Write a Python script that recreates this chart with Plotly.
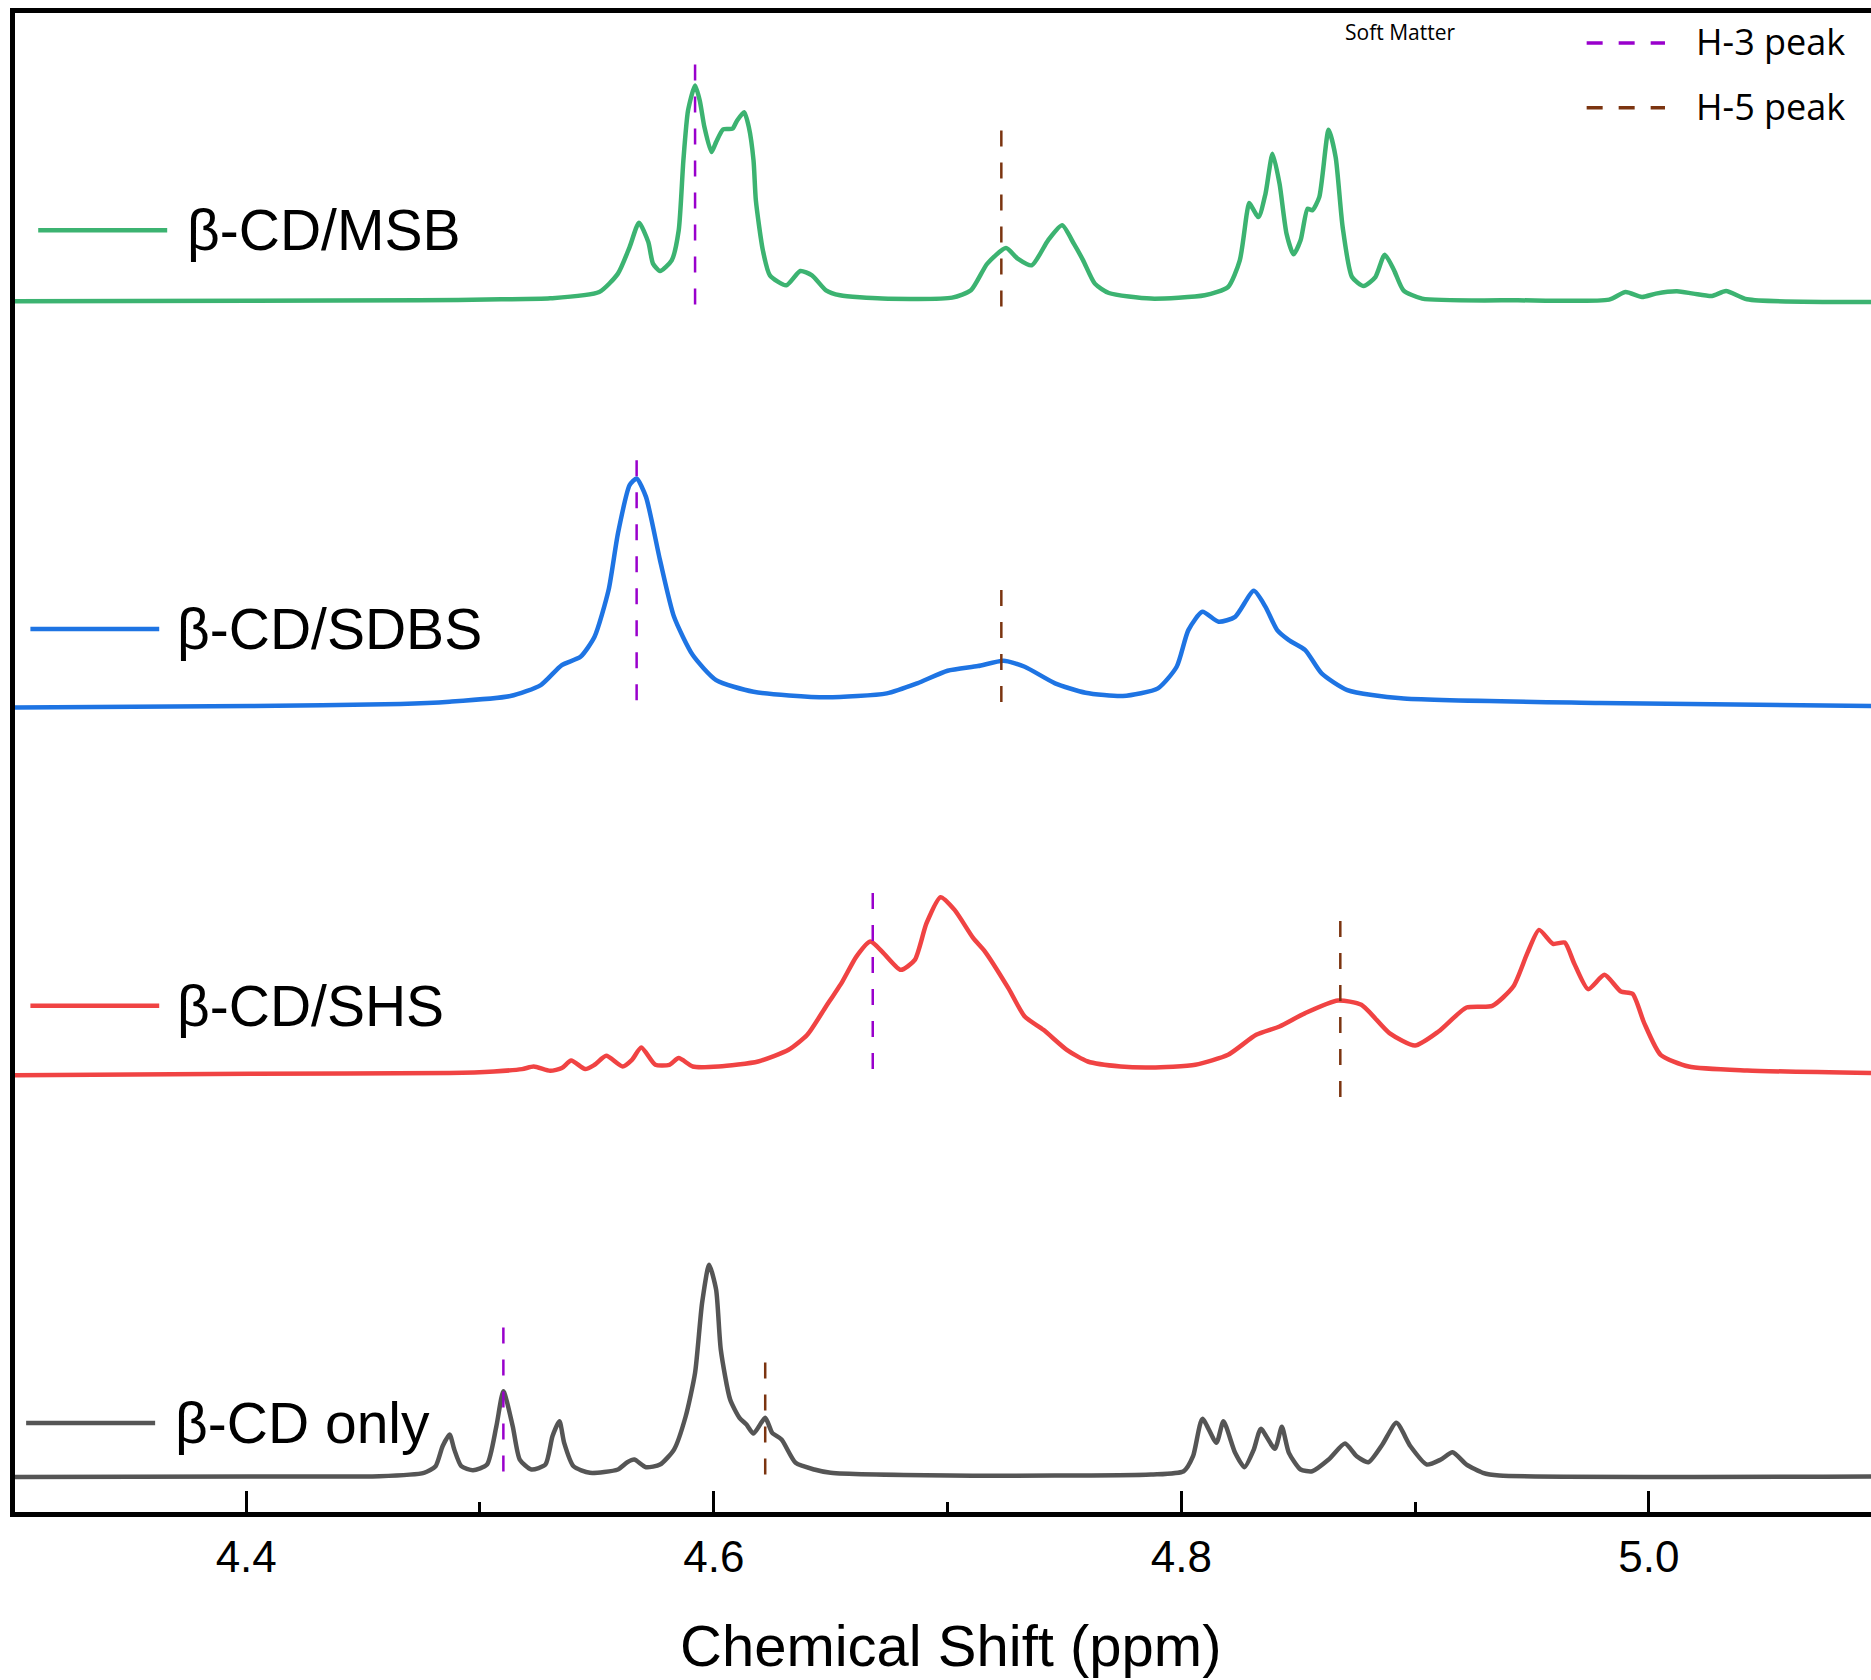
import plotly.graph_objects as go

# ---------------- data ----------------
# chemical shift (ppm) and intensity (a.u., relative to each spectrum's baseline)
ppm_msb = [4.300, 4.402, 4.474, 4.509, 4.530, 4.551, 4.559, 4.564, 4.568, 4.572,
           4.574, 4.577, 4.582, 4.585, 4.587, 4.589, 4.592, 4.594, 4.596, 4.599,
           4.601, 4.604, 4.608, 4.610, 4.613, 4.615, 4.617, 4.618, 4.621, 4.624,
           4.631, 4.637, 4.642, 4.648, 4.654, 4.672, 4.702, 4.710, 4.717, 4.725,
           4.730, 4.736, 4.743, 4.749, 4.754, 4.758, 4.763, 4.769, 4.787, 4.810,
           4.820, 4.825, 4.828, 4.829, 4.833, 4.836, 4.839, 4.842, 4.845, 4.848,
           4.851, 4.854, 4.856, 4.859, 4.863, 4.866, 4.869, 4.873, 4.878, 4.883,
           4.887, 4.891, 4.895, 4.903, 4.944, 4.983, 4.990, 4.997, 5.003, 5.012,
           5.019, 5.027, 5.033, 5.042, 5.095]
int_msb = [-1, -0.5, 0, 1, 2, 8.3, 26.7, 53.3, 77.7, 58.3,
           36.7, 29.3, 40, 70, 140, 190, 215, 200, 173.3, 148.3,
           158.3, 171, 171.7, 180, 188.3, 173.3, 140, 100, 50, 25,
           15, 29.3, 25, 10, 5, 1.7, 2.7, 10, 36.7, 52.3,
           41.7, 35, 60, 75, 56.7, 40, 16.7, 7.3, 1.7, 5,
           13.3, 40, 86.7, 97.3, 83.3, 106.7, 146.7, 116.7, 66.7, 46,
           60, 91.7, 90, 103.3, 170.7, 143.3, 73.3, 23.3, 14.3, 23.3,
           45.7, 30, 10, 1.7, 0, 0.7, 8.3, 3.3, 6.7, 9,
           6.7, 4.3, 9.3, 1, -1.7]

ppm_sdbs = [4.300, 4.402, 4.466, 4.487, 4.513, 4.526, 4.535, 4.543, 4.549, 4.555,
            4.559, 4.564, 4.567, 4.571, 4.577, 4.583, 4.591, 4.601, 4.617, 4.648,
            4.674, 4.687, 4.700, 4.713, 4.724, 4.733, 4.746, 4.759, 4.775, 4.790,
            4.798, 4.803, 4.809, 4.816, 4.823, 4.831, 4.836, 4.841, 4.846, 4.853,
            4.860, 4.871, 4.894, 4.979, 5.095]
int_sdbs = [-0.5, 1, 3, 5.3, 11, 22, 42, 50.3, 70.3, 117,
            173.7, 222, 228.7, 210.3, 147, 90.3, 52, 27, 15.3, 9.7,
            13.7, 23.7, 36.3, 41, 46.3, 40.3, 23.7, 14.3, 11, 18.7,
            40.3, 77, 95.3, 85.3, 90.3, 116.3, 100.3, 77, 67, 57,
            33.7, 17, 8.7, 4, 1]

ppm_shs = [4.300, 4.402, 4.487, 4.506, 4.518, 4.523, 4.530, 4.535, 4.539, 4.545,
           4.549, 4.554, 4.561, 4.565, 4.569, 4.575, 4.581, 4.585, 4.591, 4.602,
           4.619, 4.632, 4.640, 4.648, 4.655, 4.661, 4.667, 4.672, 4.680, 4.686,
           4.691, 4.697, 4.703, 4.711, 4.716, 4.726, 4.733, 4.741, 4.751, 4.760,
           4.774, 4.787, 4.806, 4.820, 4.832, 4.842, 4.853, 4.867, 4.877, 4.889,
           4.900, 4.910, 4.922, 4.933, 4.942, 4.948, 4.953, 4.959, 4.964, 4.968,
           4.974, 4.981, 4.988, 4.993, 4.998, 5.005, 5.017, 5.042, 5.095]
int_shs = [-0.5, 1, 1.7, 3.3, 5.7, 8.3, 4, 6.7, 14.3, 5.7,
           10, 19, 8.3, 15, 27.3, 10, 10, 16.7, 8.3, 8.3,
           13.3, 25, 40, 68.3, 93.3, 118.3, 133.3, 123.3, 105, 115,
           151.7, 177.7, 165, 136.7, 123.3, 86.7, 58.3, 45, 25, 13.3,
           8.3, 7.3, 10, 20, 40, 48.3, 61.7, 74.3, 70, 41.7,
           29.3, 43.3, 67.3, 69, 88.3, 121.7, 145, 131, 132.3, 111.7,
           85.7, 100, 83.3, 81, 51.7, 20, 8.3, 4.3, 1.7]

ppm_cd = [4.300, 4.402, 4.457, 4.476, 4.481, 4.484, 4.487, 4.489, 4.492, 4.497,
          4.503, 4.507, 4.510, 4.514, 4.517, 4.522, 4.528, 4.531, 4.534, 4.536,
          4.540, 4.547, 4.559, 4.563, 4.566, 4.571, 4.577, 4.583, 4.588, 4.592,
          4.595, 4.598, 4.601, 4.603, 4.607, 4.611, 4.614, 4.617, 4.622, 4.625,
          4.629, 4.635, 4.643, 4.650, 4.701, 4.787, 4.801, 4.805, 4.809, 4.815,
          4.818, 4.823, 4.827, 4.831, 4.834, 4.840, 4.843, 4.846, 4.851, 4.856,
          4.863, 4.870, 4.875, 4.880, 4.886, 4.892, 4.898, 4.905, 4.911, 4.916,
          4.922, 4.929, 4.936, 5.095]
int_cd = [-0.5, 0, 0.3, 3.7, 10.3, 30.3, 42, 27, 10.3, 6.3,
          12, 50.3, 85.3, 50.3, 17, 7, 12, 40.3, 55.3, 33.7,
          10.3, 3.7, 7, 14.3, 17, 9.3, 12, 27, 60.3, 103.7,
          173.7, 212, 187, 127, 77, 58.7, 52, 43, 58.7, 43.7,
          37, 13.7, 7, 3.7, 1, 2, 5.3, 20.3, 57.7, 33.7,
          55.3, 23.7, 9.3, 27, 47.7, 27.7, 49.7, 23.7, 7, 5.3,
          17, 33, 20.3, 14.3, 32, 53.7, 30.3, 12, 17, 24.3,
          12, 3.7, 1, 0]

series_names = ["β-CD/MSB", "β-CD/SDBS", "β-CD/SHS", "β-CD only"]
series_ppm = [ppm_msb, ppm_sdbs, ppm_shs, ppm_cd]
series_int = [int_msb, int_sdbs, int_shs, int_cd]
series_offset = [1215, 808, 440, 38]

# H-3 / H-5 peak markers: position (ppm) and vertical extent (relative to baseline)
h3_ppm = [4.592, 4.567, 4.668, 4.510]
h3_top = [236, 247, 182, 149]
h3_bottom = [-5, 6, 5, 3]
h5_ppm = [4.723, 4.723, 4.868, 4.622]
h5_top = [170, 117, 154, 114]
h5_bottom = [-7, 5, -23, 2]

xtick_vals = [4.4, 4.6, 4.8, 5.0]
xtick_text = ["4.4", "4.6", "4.8", "5.0"]
xminor_vals = [4.5, 4.7, 4.9]

# ---------------- style ----------------
colors = ["#3CB371", "#1E74E3", "#F04343", "#555555"]
purple = "#9900CC"
brown = "#7B3410"
FONT = "Liberation Sans, Arial, sans-serif"
LEGFONT = "Open Sans, Noto Sans, sans-serif"

fig = go.Figure()

for name, xs, ys, off, col in zip(series_names, series_ppm, series_int, series_offset, colors):
    fig.add_trace(go.Scatter(
        x=xs, y=[v + off for v in ys], mode="lines", name=name,
        line=dict(color=col, width=4.5, shape="spline", smoothing=0.6),
        showlegend=False, hoverinfo="skip"))

for p, top, bot, off in zip(h3_ppm, h3_top, h3_bottom, series_offset):
    fig.add_trace(go.Scatter(x=[p, p], y=[off + top, off + bot], mode="lines",
                             line=dict(color=purple, width=2.5, dash="16px,16px"),
                             showlegend=False, hoverinfo="skip"))
for p, top, bot, off in zip(h5_ppm, h5_top, h5_bottom, series_offset):
    fig.add_trace(go.Scatter(x=[p, p], y=[off + top, off + bot], mode="lines",
                             line=dict(color=brown, width=2.5, dash="16px,16px"),
                             showlegend=False, hoverinfo="skip"))

# series labels (line sample + text), placed in paper-x / data-y
label_y = [1285, 886, 509, 91.5]
label_line_x = [(0.0125, 0.082), (0.0083, 0.0777), (0.0083, 0.0777), (0.006, 0.0755)]
label_text_x = [0.0918, 0.0863, 0.0863, 0.0852]
shapes = []
annotations = []
for name, col, ly, (x0, x1), tx in zip(series_names, colors, label_y, label_line_x, label_text_x):
    shapes.append(dict(type="line", xref="paper", yref="y", x0=x0, x1=x1, y0=ly, y1=ly,
                       line=dict(color=col, width=4.5)))
    annotations.append(dict(text=name, xref="paper", yref="y", x=tx, y=ly,
                            xanchor="left", yanchor="middle", showarrow=False,
                            font=dict(family=FONT, size=57, color="black")))

# H-3 / H-5 legend
for txt, col, ly in [("H-3 peak", purple, 1472.5), ("H-5 peak", brown, 1407.7)]:
    shapes.append(dict(type="line", xref="paper", yref="y", x0=0.8468, x1=0.889,
                       y0=ly, y1=ly, line=dict(color=col, width=3.5, dash="16px,16px")))
    annotations.append(dict(text=txt, xref="paper", yref="y", x=0.9045, y=ly + 1,
                            xanchor="left", yanchor="middle", showarrow=False,
                            font=dict(family=LEGFONT, size=36, color="black")))

annotations.append(dict(text="Soft Matter", xref="paper", yref="y", x=0.746, y=1483,
                        xanchor="center", yanchor="middle", showarrow=False,
                        font=dict(family=LEGFONT, size=21, color="black")))

annotations.append(dict(text="Chemical Shift (ppm)", xref="paper", yref="paper",
                        x=0.504, y=-0.089, xanchor="center", yanchor="middle",
                        showarrow=False, font=dict(family=FONT, size=58, color="black")))

fig.update_layout(
    width=1871, height=1680,
    margin=dict(l=14.5, r=0, t=12.5, b=167.5, pad=0),
    paper_bgcolor="white", plot_bgcolor="white",
    shapes=shapes, annotations=annotations,
    xaxis=dict(range=[4.3011, 5.095], showline=True, linecolor="black", linewidth=5,
               mirror=True, ticks="inside", ticklen=21, tickwidth=3, tickcolor="black",
               tickvals=xtick_vals, ticktext=xtick_text,
               tickfont=dict(family=FONT, size=44, color="black"),
               ticklabelstandoff=2,
               minor=dict(tickvals=xminor_vals, ticks="inside", ticklen=10,
                          tickwidth=3, tickcolor="black", showgrid=False),
               showgrid=False, zeroline=False),
    yaxis=dict(range=[2.5, 1502.5], showline=True, linecolor="black", linewidth=5,
               mirror=False, ticks="", showticklabels=False,
               showgrid=False, zeroline=False),
)

fig.write_html("out.html", config={"displayModeBar": False},
               post_script="document.body.style.margin='0';document.body.style.overflow='hidden';")
